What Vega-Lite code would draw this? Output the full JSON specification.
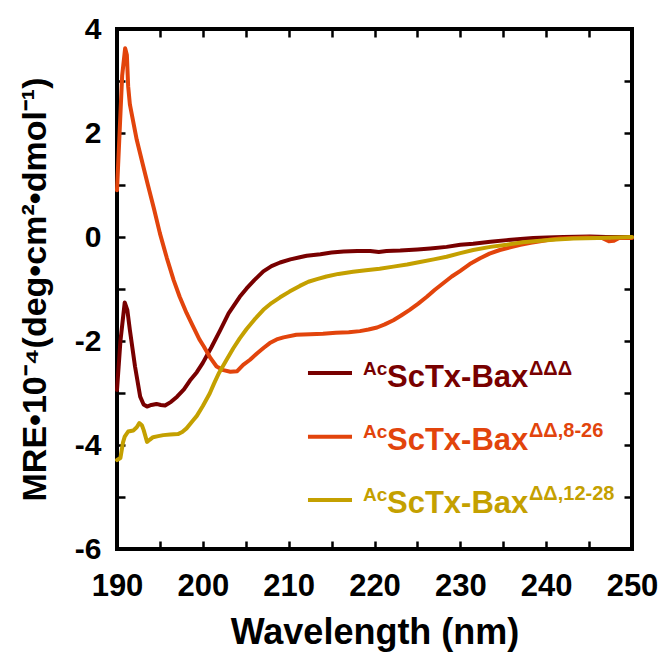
{
  "$schema": "https://vega.github.io/schema/vega-lite/v6.json",
  "width": 515,
  "height": 520,
  "autosize": {"type": "none"},
  "padding": {"left": 117, "top": 29, "right": 32, "bottom": 118},
  "background": "white",
  "config": {
    "view": {"stroke": "black", "strokeWidth": 4},
    "font": "Liberation Sans",
    "axis": {
      "domain": false,
      "grid": false,
      "tickColor": "black",
      "tickWidth": 2.5,
      "tickSize": -8,
      "labelFont": "Liberation Sans",
      "labelFontWeight": "bold",
      "labelColor": "black",
      "titleFont": "Liberation Sans",
      "titleFontWeight": "bold",
      "titleColor": "black",
      "labelFlush": false,
      "labelOverlap": false,
      "labelBound": false
    }
  },
  "datasets": {
    "cd": [
      {"sample": "ΔΔΔ", "wl": 190.0, "mre": -2.94},
      {"sample": "ΔΔΔ", "wl": 190.4, "mre": -2.0},
      {"sample": "ΔΔΔ", "wl": 190.9, "mre": -1.26},
      {"sample": "ΔΔΔ", "wl": 191.2, "mre": -1.4},
      {"sample": "ΔΔΔ", "wl": 191.5, "mre": -1.79},
      {"sample": "ΔΔΔ", "wl": 192.1, "mre": -2.49},
      {"sample": "ΔΔΔ", "wl": 192.7, "mre": -3.07},
      {"sample": "ΔΔΔ", "wl": 193.1, "mre": -3.22},
      {"sample": "ΔΔΔ", "wl": 193.5, "mre": -3.26},
      {"sample": "ΔΔΔ", "wl": 194.0, "mre": -3.23},
      {"sample": "ΔΔΔ", "wl": 194.6, "mre": -3.21},
      {"sample": "ΔΔΔ", "wl": 195.1, "mre": -3.23},
      {"sample": "ΔΔΔ", "wl": 195.6, "mre": -3.24},
      {"sample": "ΔΔΔ", "wl": 196.3, "mre": -3.17},
      {"sample": "ΔΔΔ", "wl": 197.0, "mre": -3.07},
      {"sample": "ΔΔΔ", "wl": 197.8, "mre": -2.93},
      {"sample": "ΔΔΔ", "wl": 198.5, "mre": -2.76},
      {"sample": "ΔΔΔ", "wl": 199.3, "mre": -2.6},
      {"sample": "ΔΔΔ", "wl": 200.0, "mre": -2.42},
      {"sample": "ΔΔΔ", "wl": 201.0, "mre": -2.12},
      {"sample": "ΔΔΔ", "wl": 202.0, "mre": -1.8},
      {"sample": "ΔΔΔ", "wl": 203.0, "mre": -1.47},
      {"sample": "ΔΔΔ", "wl": 204.3, "mre": -1.15},
      {"sample": "ΔΔΔ", "wl": 205.1, "mre": -0.99},
      {"sample": "ΔΔΔ", "wl": 206.0, "mre": -0.83},
      {"sample": "ΔΔΔ", "wl": 207.05, "mre": -0.66},
      {"sample": "ΔΔΔ", "wl": 208.0, "mre": -0.56},
      {"sample": "ΔΔΔ", "wl": 209.0, "mre": -0.49},
      {"sample": "ΔΔΔ", "wl": 210.2, "mre": -0.43},
      {"sample": "ΔΔΔ", "wl": 211.3, "mre": -0.39},
      {"sample": "ΔΔΔ", "wl": 212.1, "mre": -0.36},
      {"sample": "ΔΔΔ", "wl": 213.7, "mre": -0.33},
      {"sample": "ΔΔΔ", "wl": 215.0, "mre": -0.3},
      {"sample": "ΔΔΔ", "wl": 216.4, "mre": -0.28},
      {"sample": "ΔΔΔ", "wl": 218.0, "mre": -0.27},
      {"sample": "ΔΔΔ", "wl": 219.5, "mre": -0.27},
      {"sample": "ΔΔΔ", "wl": 220.5, "mre": -0.29},
      {"sample": "ΔΔΔ", "wl": 221.4, "mre": -0.27},
      {"sample": "ΔΔΔ", "wl": 223.0, "mre": -0.26},
      {"sample": "ΔΔΔ", "wl": 225.0, "mre": -0.24},
      {"sample": "ΔΔΔ", "wl": 226.5, "mre": -0.22},
      {"sample": "ΔΔΔ", "wl": 228.4, "mre": -0.19},
      {"sample": "ΔΔΔ", "wl": 230.0, "mre": -0.15},
      {"sample": "ΔΔΔ", "wl": 231.5, "mre": -0.13},
      {"sample": "ΔΔΔ", "wl": 233.5, "mre": -0.09},
      {"sample": "ΔΔΔ", "wl": 235.4, "mre": -0.06},
      {"sample": "ΔΔΔ", "wl": 237.0, "mre": -0.04},
      {"sample": "ΔΔΔ", "wl": 238.5, "mre": -0.02},
      {"sample": "ΔΔΔ", "wl": 240.1, "mre": -0.01},
      {"sample": "ΔΔΔ", "wl": 242.0, "mre": 0.0},
      {"sample": "ΔΔΔ", "wl": 245.1, "mre": 0.01},
      {"sample": "ΔΔΔ", "wl": 247.0, "mre": 0.0},
      {"sample": "ΔΔΔ", "wl": 250.0, "mre": 0.0},
      {"sample": "ΔΔ,8-26", "wl": 190.0, "mre": 0.9},
      {"sample": "ΔΔ,8-26", "wl": 190.3, "mre": 2.0},
      {"sample": "ΔΔ,8-26", "wl": 190.6, "mre": 3.1},
      {"sample": "ΔΔ,8-26", "wl": 190.95, "mre": 3.63},
      {"sample": "ΔΔ,8-26", "wl": 191.15, "mre": 3.5},
      {"sample": "ΔΔ,8-26", "wl": 191.3, "mre": 2.9},
      {"sample": "ΔΔ,8-26", "wl": 191.5, "mre": 2.55},
      {"sample": "ΔΔ,8-26", "wl": 192.3, "mre": 1.87},
      {"sample": "ΔΔ,8-26", "wl": 193.0, "mre": 1.4},
      {"sample": "ΔΔ,8-26", "wl": 193.6, "mre": 1.0},
      {"sample": "ΔΔ,8-26", "wl": 194.3, "mre": 0.55},
      {"sample": "ΔΔ,8-26", "wl": 195.0, "mre": 0.07},
      {"sample": "ΔΔ,8-26", "wl": 195.8, "mre": -0.4},
      {"sample": "ΔΔ,8-26", "wl": 196.6, "mre": -0.83},
      {"sample": "ΔΔ,8-26", "wl": 197.3, "mre": -1.15},
      {"sample": "ΔΔ,8-26", "wl": 198.1, "mre": -1.46},
      {"sample": "ΔΔ,8-26", "wl": 198.8, "mre": -1.7},
      {"sample": "ΔΔ,8-26", "wl": 199.6, "mre": -1.97},
      {"sample": "ΔΔ,8-26", "wl": 200.1, "mre": -2.1},
      {"sample": "ΔΔ,8-26", "wl": 200.9, "mre": -2.33},
      {"sample": "ΔΔ,8-26", "wl": 201.6, "mre": -2.49},
      {"sample": "ΔΔ,8-26", "wl": 202.4, "mre": -2.56},
      {"sample": "ΔΔ,8-26", "wl": 203.2, "mre": -2.59},
      {"sample": "ΔΔ,8-26", "wl": 204.0, "mre": -2.58},
      {"sample": "ΔΔ,8-26", "wl": 204.7, "mre": -2.46},
      {"sample": "ΔΔ,8-26", "wl": 205.5, "mre": -2.36},
      {"sample": "ΔΔ,8-26", "wl": 206.3, "mre": -2.24},
      {"sample": "ΔΔ,8-26", "wl": 207.1, "mre": -2.13},
      {"sample": "ΔΔ,8-26", "wl": 207.8, "mre": -2.04},
      {"sample": "ΔΔ,8-26", "wl": 208.6, "mre": -1.97},
      {"sample": "ΔΔ,8-26", "wl": 209.4, "mre": -1.93},
      {"sample": "ΔΔ,8-26", "wl": 210.9, "mre": -1.88},
      {"sample": "ΔΔ,8-26", "wl": 212.5, "mre": -1.87},
      {"sample": "ΔΔ,8-26", "wl": 214.0, "mre": -1.86},
      {"sample": "ΔΔ,8-26", "wl": 215.5, "mre": -1.84},
      {"sample": "ΔΔ,8-26", "wl": 217.0, "mre": -1.83},
      {"sample": "ΔΔ,8-26", "wl": 218.3, "mre": -1.81},
      {"sample": "ΔΔ,8-26", "wl": 219.3, "mre": -1.78},
      {"sample": "ΔΔ,8-26", "wl": 220.3, "mre": -1.74},
      {"sample": "ΔΔ,8-26", "wl": 221.2, "mre": -1.68},
      {"sample": "ΔΔ,8-26", "wl": 222.2, "mre": -1.6},
      {"sample": "ΔΔ,8-26", "wl": 223.1, "mre": -1.51},
      {"sample": "ΔΔ,8-26", "wl": 224.1, "mre": -1.4},
      {"sample": "ΔΔ,8-26", "wl": 225.1, "mre": -1.28},
      {"sample": "ΔΔ,8-26", "wl": 226.1, "mre": -1.15},
      {"sample": "ΔΔ,8-26", "wl": 227.0, "mre": -1.02},
      {"sample": "ΔΔ,8-26", "wl": 228.0, "mre": -0.89},
      {"sample": "ΔΔ,8-26", "wl": 229.0, "mre": -0.76},
      {"sample": "ΔΔ,8-26", "wl": 230.0, "mre": -0.65},
      {"sample": "ΔΔ,8-26", "wl": 231.1, "mre": -0.52},
      {"sample": "ΔΔ,8-26", "wl": 232.3, "mre": -0.41},
      {"sample": "ΔΔ,8-26", "wl": 233.4, "mre": -0.32},
      {"sample": "ΔΔ,8-26", "wl": 234.6, "mre": -0.25},
      {"sample": "ΔΔ,8-26", "wl": 235.8, "mre": -0.2},
      {"sample": "ΔΔ,8-26", "wl": 237.0, "mre": -0.15},
      {"sample": "ΔΔ,8-26", "wl": 238.2, "mre": -0.11},
      {"sample": "ΔΔ,8-26", "wl": 239.3, "mre": -0.08},
      {"sample": "ΔΔ,8-26", "wl": 240.5, "mre": -0.05},
      {"sample": "ΔΔ,8-26", "wl": 241.6, "mre": -0.03},
      {"sample": "ΔΔ,8-26", "wl": 243.0, "mre": -0.02},
      {"sample": "ΔΔ,8-26", "wl": 244.7, "mre": -0.01},
      {"sample": "ΔΔ,8-26", "wl": 246.5, "mre": -0.02},
      {"sample": "ΔΔ,8-26", "wl": 247.3, "mre": -0.08},
      {"sample": "ΔΔ,8-26", "wl": 247.9, "mre": -0.07},
      {"sample": "ΔΔ,8-26", "wl": 248.5, "mre": -0.02},
      {"sample": "ΔΔ,8-26", "wl": 250.0, "mre": -0.02},
      {"sample": "ΔΔ,12-28", "wl": 190.0, "mre": -4.29},
      {"sample": "ΔΔ,12-28", "wl": 190.4, "mre": -4.25},
      {"sample": "ΔΔ,12-28", "wl": 190.7, "mre": -3.95},
      {"sample": "ΔΔ,12-28", "wl": 190.9, "mre": -3.84},
      {"sample": "ΔΔ,12-28", "wl": 191.3, "mre": -3.74},
      {"sample": "ΔΔ,12-28", "wl": 191.9, "mre": -3.72},
      {"sample": "ΔΔ,12-28", "wl": 192.3, "mre": -3.66},
      {"sample": "ΔΔ,12-28", "wl": 192.6, "mre": -3.58},
      {"sample": "ΔΔ,12-28", "wl": 192.9, "mre": -3.62},
      {"sample": "ΔΔ,12-28", "wl": 193.1, "mre": -3.71},
      {"sample": "ΔΔ,12-28", "wl": 193.5, "mre": -3.94},
      {"sample": "ΔΔ,12-28", "wl": 193.8, "mre": -3.9},
      {"sample": "ΔΔ,12-28", "wl": 194.2, "mre": -3.85},
      {"sample": "ΔΔ,12-28", "wl": 194.8, "mre": -3.83},
      {"sample": "ΔΔ,12-28", "wl": 195.4, "mre": -3.81},
      {"sample": "ΔΔ,12-28", "wl": 196.2, "mre": -3.8},
      {"sample": "ΔΔ,12-28", "wl": 197.1, "mre": -3.79},
      {"sample": "ΔΔ,12-28", "wl": 197.6, "mre": -3.75},
      {"sample": "ΔΔ,12-28", "wl": 198.1, "mre": -3.68},
      {"sample": "ΔΔ,12-28", "wl": 198.9, "mre": -3.52},
      {"sample": "ΔΔ,12-28", "wl": 199.3, "mre": -3.44},
      {"sample": "ΔΔ,12-28", "wl": 200.0, "mre": -3.25},
      {"sample": "ΔΔ,12-28", "wl": 200.8, "mre": -3.01},
      {"sample": "ΔΔ,12-28", "wl": 201.3, "mre": -2.82},
      {"sample": "ΔΔ,12-28", "wl": 201.9, "mre": -2.61},
      {"sample": "ΔΔ,12-28", "wl": 202.7, "mre": -2.38},
      {"sample": "ΔΔ,12-28", "wl": 203.55, "mre": -2.14},
      {"sample": "ΔΔ,12-28", "wl": 204.3, "mre": -1.95},
      {"sample": "ΔΔ,12-28", "wl": 205.1, "mre": -1.77},
      {"sample": "ΔΔ,12-28", "wl": 206.0, "mre": -1.59},
      {"sample": "ΔΔ,12-28", "wl": 207.05, "mre": -1.4},
      {"sample": "ΔΔ,12-28", "wl": 208.0, "mre": -1.27},
      {"sample": "ΔΔ,12-28", "wl": 209.0, "mre": -1.16},
      {"sample": "ΔΔ,12-28", "wl": 210.1, "mre": -1.05},
      {"sample": "ΔΔ,12-28", "wl": 211.3, "mre": -0.94},
      {"sample": "ΔΔ,12-28", "wl": 212.3, "mre": -0.86},
      {"sample": "ΔΔ,12-28", "wl": 213.3, "mre": -0.81},
      {"sample": "ΔΔ,12-28", "wl": 214.4, "mre": -0.76},
      {"sample": "ΔΔ,12-28", "wl": 215.8, "mre": -0.71},
      {"sample": "ΔΔ,12-28", "wl": 217.5, "mre": -0.67},
      {"sample": "ΔΔ,12-28", "wl": 219.0, "mre": -0.64},
      {"sample": "ΔΔ,12-28", "wl": 220.6, "mre": -0.61},
      {"sample": "ΔΔ,12-28", "wl": 222.2, "mre": -0.57},
      {"sample": "ΔΔ,12-28", "wl": 223.8, "mre": -0.53},
      {"sample": "ΔΔ,12-28", "wl": 225.3, "mre": -0.48},
      {"sample": "ΔΔ,12-28", "wl": 226.9, "mre": -0.43},
      {"sample": "ΔΔ,12-28", "wl": 228.4, "mre": -0.38},
      {"sample": "ΔΔ,12-28", "wl": 230.0, "mre": -0.31},
      {"sample": "ΔΔ,12-28", "wl": 231.5, "mre": -0.25},
      {"sample": "ΔΔ,12-28", "wl": 233.5, "mre": -0.19},
      {"sample": "ΔΔ,12-28", "wl": 235.4, "mre": -0.15},
      {"sample": "ΔΔ,12-28", "wl": 237.3, "mre": -0.1},
      {"sample": "ΔΔ,12-28", "wl": 239.3, "mre": -0.07},
      {"sample": "ΔΔ,12-28", "wl": 241.2, "mre": -0.05},
      {"sample": "ΔΔ,12-28", "wl": 243.2, "mre": -0.03},
      {"sample": "ΔΔ,12-28", "wl": 246.0, "mre": -0.02},
      {"sample": "ΔΔ,12-28", "wl": 248.0, "mre": -0.01},
      {"sample": "ΔΔ,12-28", "wl": 250.0, "mre": 0.0}
    ],
    "leg1": [{"sample": "ΔΔΔ", "pre": "Ac", "main": "ScTx-Bax", "sup": "ΔΔΔ"}],
    "leg2": [{"sample": "ΔΔ,8-26", "pre": "Ac", "main": "ScTx-Bax", "sup": "ΔΔ,8-26"}],
    "leg3": [{"sample": "ΔΔ,12-28", "pre": "Ac", "main": "ScTx-Bax", "sup": "ΔΔ,12-28"}]
  },
  "layer": [
    {
      "data": {"name": "cd"},
      "mark": {"type": "line", "strokeWidth": 4, "strokeJoin": "round", "strokeCap": "round"},
      "encoding": {
        "x": {
          "field": "wl", "type": "quantitative",
          "scale": {"domain": [190, 250], "nice": false, "zero": false},
          "axis": {
            "orient": "bottom",
            "values": [190, 195, 200, 205, 210, 215, 220, 225, 230, 235, 240, 245, 250],
            "labelExpr": "datum.value % 10 === 0 ? '' + datum.value : ''",
            "labelFontSize": 31, "labelPadding": 30,
            "title": "Wavelength (nm)", "titleFontSize": 36, "titlePadding": 14
          }
        },
        "y": {
          "field": "mre", "type": "quantitative",
          "scale": {"domain": [-6, 4], "nice": false, "zero": false},
          "axis": {
            "orient": "left",
            "values": [-6, -5, -4, -3, -2, -1, 0, 1, 2, 3, 4],
            "labelExpr": "datum.value % 2 === 0 ? '' + datum.value : ''",
            "labelFontSize": 30, "labelPadding": 24,
            "title": "MRE•10⁻⁴(deg•cm²•dmol⁻¹)", "titleFontSize": 34, "titlePadding": 22
          }
        },
        "color": {
          "field": "sample", "type": "nominal",
          "scale": {"domain": ["ΔΔΔ", "ΔΔ,8-26", "ΔΔ,12-28"], "range": ["#780000", "#e2440c", "#c4a000"]},
          "legend": null
        }
      }
    },
    {
      "data": {"name": "cd"},
      "mark": {"type": "point", "opacity": 0},
      "encoding": {
        "x": {
          "field": "wl", "type": "quantitative",
          "scale": {"domain": [190, 250], "nice": false, "zero": false},
          "axis": {"orient": "top", "values": [190, 195, 200, 205, 210, 215, 220, 225, 230, 235, 240, 245, 250], "labels": false, "title": null}
        },
        "y": {
          "field": "mre", "type": "quantitative",
          "scale": {"domain": [-6, 4], "nice": false, "zero": false},
          "axis": {"orient": "right", "values": [-6, -5, -4, -3, -2, -1, 0, 1, 2, 3, 4], "labels": false, "title": null}
        }
      }
    },
    {
      "data": {"name": "leg1"},
      "layer": [
        {"mark": {"type": "rule", "strokeWidth": 4, "color": "#780000"},
         "encoding": {"x": {"datum": 212.25, "axis": null}, "x2": {"datum": 217.38}, "y": {"datum": -2.615, "axis": null}}},
        {"mark": {"type": "text", "align": "left", "baseline": "alphabetic", "fontSize": 19, "fontWeight": "bold", "dy": -12, "color": "#780000"},
         "encoding": {"x": {"datum": 218.66, "axis": null}, "y": {"datum": -2.879, "axis": null}, "text": {"field": "pre"}}},
        {"mark": {"type": "text", "align": "left", "baseline": "alphabetic", "fontSize": 31, "fontWeight": "bold", "dx": 24, "color": "#780000"},
         "encoding": {"x": {"datum": 218.66, "axis": null}, "y": {"datum": -2.879, "axis": null}, "text": {"field": "main"}}},
        {"mark": {"type": "text", "align": "left", "baseline": "alphabetic", "fontSize": 20, "fontWeight": "bold", "dx": 166, "dy": -12, "color": "#780000"},
         "encoding": {"x": {"datum": 218.66, "axis": null}, "y": {"datum": -2.879, "axis": null}, "text": {"field": "sup"}}}
      ]
    },
    {
      "data": {"name": "leg2"},
      "layer": [
        {"mark": {"type": "rule", "strokeWidth": 4, "color": "#e2440c"},
         "encoding": {"x": {"datum": 212.25, "axis": null}, "x2": {"datum": 217.38}, "y": {"datum": -3.84, "axis": null}}},
        {"mark": {"type": "text", "align": "left", "baseline": "alphabetic", "fontSize": 19, "fontWeight": "bold", "dy": -12, "color": "#e2440c"},
         "encoding": {"x": {"datum": 218.66, "axis": null}, "y": {"datum": -4.096, "axis": null}, "text": {"field": "pre"}}},
        {"mark": {"type": "text", "align": "left", "baseline": "alphabetic", "fontSize": 31, "fontWeight": "bold", "dx": 24, "color": "#e2440c"},
         "encoding": {"x": {"datum": 218.66, "axis": null}, "y": {"datum": -4.096, "axis": null}, "text": {"field": "main"}}},
        {"mark": {"type": "text", "align": "left", "baseline": "alphabetic", "fontSize": 20, "fontWeight": "bold", "dx": 166, "dy": -13, "color": "#e2440c"},
         "encoding": {"x": {"datum": 218.66, "axis": null}, "y": {"datum": -4.096, "axis": null}, "text": {"field": "sup"}}}
      ]
    },
    {
      "data": {"name": "leg3"},
      "layer": [
        {"mark": {"type": "rule", "strokeWidth": 4, "color": "#c4a000"},
         "encoding": {"x": {"datum": 212.25, "axis": null}, "x2": {"datum": 217.38}, "y": {"datum": -5.058, "axis": null}}},
        {"mark": {"type": "text", "align": "left", "baseline": "alphabetic", "fontSize": 19, "fontWeight": "bold", "dy": -12, "color": "#c4a000"},
         "encoding": {"x": {"datum": 218.66, "axis": null}, "y": {"datum": -5.313, "axis": null}, "text": {"field": "pre"}}},
        {"mark": {"type": "text", "align": "left", "baseline": "alphabetic", "fontSize": 31, "fontWeight": "bold", "dx": 24, "color": "#c4a000"},
         "encoding": {"x": {"datum": 218.66, "axis": null}, "y": {"datum": -5.313, "axis": null}, "text": {"field": "main"}}},
        {"mark": {"type": "text", "align": "left", "baseline": "alphabetic", "fontSize": 20, "fontWeight": "bold", "dx": 166, "dy": -13, "color": "#c4a000"},
         "encoding": {"x": {"datum": 218.66, "axis": null}, "y": {"datum": -5.313, "axis": null}, "text": {"field": "sup"}}}
      ]
    }
  ],
  "resolve": {"axis": {"x": "independent", "y": "independent"}}
}
